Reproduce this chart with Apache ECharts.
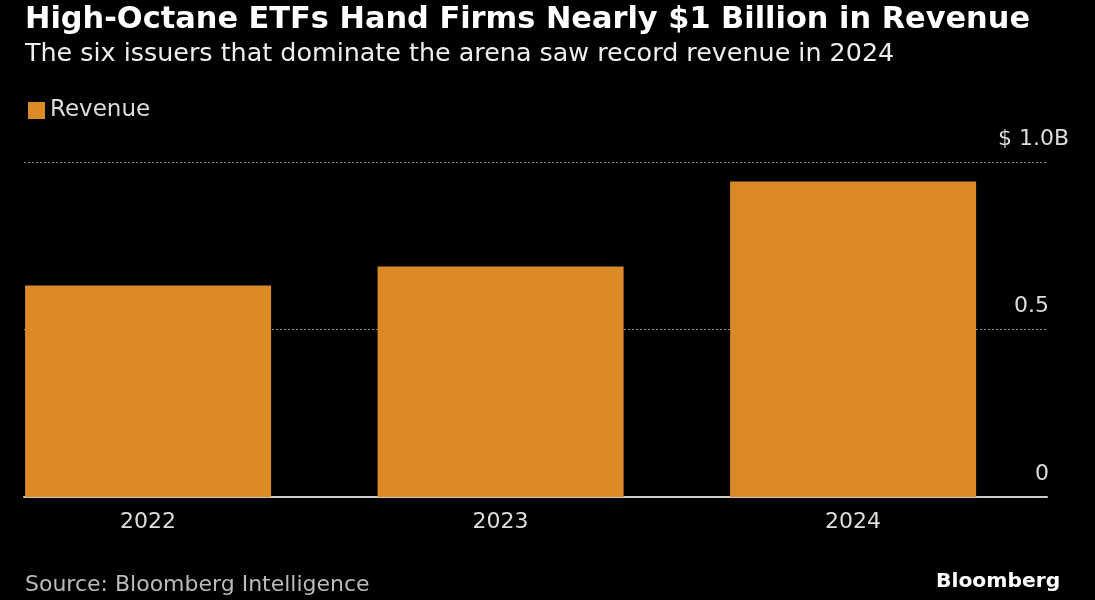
<!DOCTYPE html>
<html><head><meta charset="utf-8">
<script src="https://cdn.jsdelivr.net/npm/echarts@6/dist/echarts.min.js"></script>
<style>html,body{margin:0;padding:0;background:#000;}#c{width:1095px;height:600px;}</style>
</head><body><div id="c"></div>
<script>
const years = ['2022', '2023', '2024'];
const revenue = [0.631, 0.688, 0.942];
const yTickLabels = { 0: '{n|0}', 0.5: '{n|0.5}', 1: '{t|$ 1.0B}' };

const FONT = '"DejaVu Sans", Verdana, sans-serif';
const chart = echarts.init(document.getElementById('c'), null, { renderer: 'canvas' });
chart.setOption({
  backgroundColor: '#000',
  animation: false,
  title: [
    { text: 'High-Octane ETFs Hand Firms Nearly $1 Billion in Revenue', left: 20, top: 0,
      textStyle: { color: '#fff', fontSize: 30.4, fontWeight: 'bold', fontFamily: FONT } },
    { text: 'The six issuers that dominate the arena saw record revenue in 2024', left: 20, top: 37,
      textStyle: { color: '#eee', fontSize: 25.4, fontWeight: 'normal', fontFamily: FONT } },
    { text: 'Source: Bloomberg Intelligence', left: 20, top: 569,
      textStyle: { color: '#bbb', fontSize: 22, fontWeight: 'normal', fontFamily: FONT } },
    { text: 'Bloomberg', left: 931, top: 567,
      textStyle: { color: '#fff', fontSize: 20.3, fontWeight: 'bold', fontFamily: FONT } }
  ],
  legend: {
    left: 23, top: 94, icon: 'rect', itemWidth: 17, itemHeight: 17, itemGap: 10,
    textStyle: { color: '#ddd', fontSize: 23, fontFamily: FONT },
    data: ['Revenue']
  },
  grid: { left: 24, right: 48, top: 162, bottom: 103, containLabel: false },
  xAxis: {
    type: 'value', min: -0.352, max: 2.55,
    axisLine: { show: true, lineStyle: { color: '#ccc', width: 2 } },
    axisTick: { show: false },
    splitLine: { show: false },
    axisLabel: {
      customValues: [0, 1, 2],
      formatter: v => years[Math.round(v)],
      color: '#ddd', fontSize: 22, fontFamily: FONT, margin: 14
    }
  },
  yAxis: {
    type: 'value', position: 'right', min: 0, max: 1, interval: 0.5,
    axisLine: { show: false }, axisTick: { show: false },
    splitLine: { show: true, lineStyle: { color: '#888', type: [2, 2], width: 1 } },
    axisLabel: {
      inside: true, margin: -22,
      formatter: v => yTickLabels[v],
      color: '#ddd', fontSize: 22, fontFamily: FONT,
      verticalAlign: 'bottom', padding: [0, 0, 12, 0],
      rich: {
        n: { color: '#ddd', fontSize: 22, fontFamily: FONT, padding: [0, 20, 0, 0] },
        t: { color: '#ddd', fontSize: 22, fontFamily: FONT }
      }
    }
  },
  series: [{
    name: 'Revenue', type: 'bar', barWidth: 246,
    itemStyle: { color: '#dc8a28' },
    data: years.map((y, i) => [i, revenue[i]])
  }]
});
</script></body></html>
